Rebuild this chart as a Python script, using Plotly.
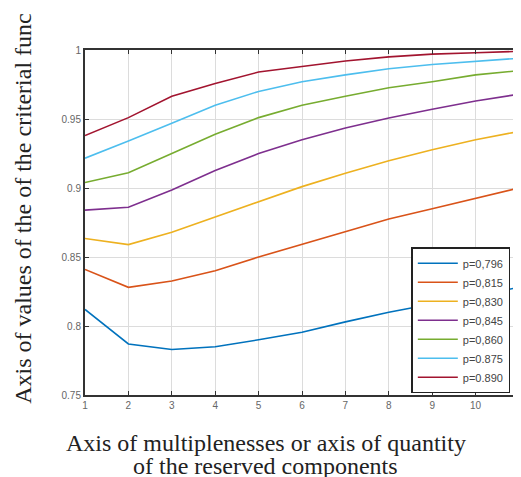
import plotly.graph_objects as go

x_vals = [1, 2, 3, 4, 5, 6, 7, 8, 9, 10, 11]
p796 = [0.812, 0.787, 0.783, 0.785, 0.790, 0.7955, 0.803, 0.810, 0.816, 0.822, 0.828]
p815 = [0.841, 0.828, 0.8326, 0.840, 0.850, 0.859, 0.868, 0.8775, 0.885, 0.8925, 0.900]
p830 = [0.8634, 0.859, 0.868, 0.879, 0.890, 0.901, 0.9107, 0.9197, 0.9277, 0.935, 0.941]
p845 = [0.884, 0.886, 0.8986, 0.9127, 0.925, 0.935, 0.9435, 0.9507, 0.957, 0.963, 0.968]
p860 = [0.904, 0.911, 0.925, 0.939, 0.951, 0.960, 0.9665, 0.9726, 0.977, 0.982, 0.985]
p875 = [0.9216, 0.934, 0.947, 0.960, 0.970, 0.977, 0.982, 0.9864, 0.9895, 0.992, 0.994]
p890 = [0.938, 0.951, 0.9665, 0.9757, 0.984, 0.988, 0.992, 0.995, 0.997, 0.998, 0.999]

series_names = ["p=0,796", "p=0,815", "p=0,830", "p=0,845", "p=0,860", "p=0.875", "p=0.890"]
series_values = [p796, p815, p830, p845, p860, p875, p890]
colors = ["#0072BD", "#D95319", "#EDB120", "#7E2F8E", "#77AC30", "#4DBEEE", "#A2142F"]

y_ticks = [0.75, 0.8, 0.85, 0.9, 0.95, 1]
y_tick_text = ["0.75", "0.8", "0.85", "0.9", "0.95", "1"]

y_title = "Axis of values of the of the criterial func"
x_title_1 = "Axis of multiplenesses or axis of quantity"
x_title_2 = "of the reserved components"

fig = go.Figure()
for name, vals, c in zip(series_names, series_values, colors):
    fig.add_trace(go.Scatter(x=x_vals, y=vals, mode="lines", name=name,
                             line=dict(color=c, width=1.6)))

axis_common = dict(showline=True, mirror="ticks", linecolor="#333333", linewidth=2,
                   ticks="inside", ticklen=4, tickcolor="#333333",
                   showgrid=True, gridcolor="#dcdcdc", gridwidth=1, zeroline=False,
                   tickfont=dict(family="Arial, Liberation Sans, sans-serif", size=10, color="#666666"))

fig.update_xaxes(range=[1, 11], tickvals=x_vals, **axis_common)
fig.update_yaxes(range=[0.75, 1], tickvals=y_ticks, ticktext=y_tick_text, **axis_common)

serif = "Liberation Serif, Times New Roman, serif"
fig.update_layout(
    width=521, height=477,
    margin=dict(l=77, r=4, t=42, b=90),
    paper_bgcolor="white", plot_bgcolor="white",
    showlegend=True,
    legend=dict(x=0.98, y=0.005, xanchor="right", yanchor="bottom",
                bgcolor="white", bordercolor="#222222", borderwidth=1.5,
                font=dict(family="Arial, Liberation Sans, sans-serif", size=11, color="#444444"),
                tracegroupgap=0, itemwidth=40),
    annotations=[
        dict(text=y_title, textangle=-90,
             xref="paper", yref="paper", x=-0.143, y=-0.03, xanchor="center", yanchor="bottom",
             showarrow=False, font=dict(family=serif, size=24, color="#222222")),
        dict(text=x_title_1, xref="paper", yref="paper", x=0.416, y=-0.139,
             xanchor="center", yanchor="middle", showarrow=False,
             font=dict(family=serif, size=24, color="#222222")),
        dict(text=x_title_2, xref="paper", yref="paper", x=0.416, y=-0.207,
             xanchor="center", yanchor="middle", showarrow=False,
             font=dict(family=serif, size=24, color="#222222")),
    ],
)

fig.write_html("out.html")
